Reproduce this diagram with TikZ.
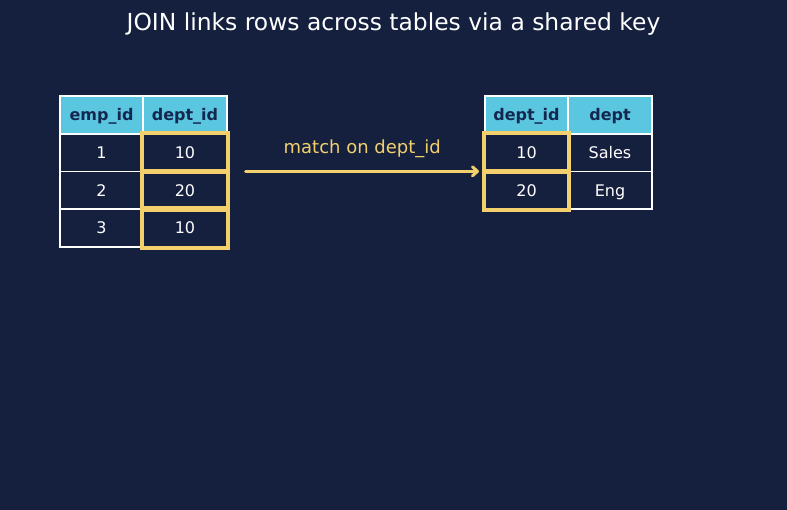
\documentclass[tikz,border=0pt]{standalone}
\usepackage{fontspec}
\setmainfont{DejaVu Sans}
\usetikzlibrary{arrows.meta}
\definecolor{bg}{HTML}{15203F}
\definecolor{hdr}{HTML}{5AC6E0}
\definecolor{hdrtext}{HTML}{14284F}
\definecolor{key}{HTML}{F3D06C}
\tikzset{
  cell/.style={draw=white, line width=1.6pt, fill=bg, text=white, minimum width=83.5pt, minimum height=37.7pt, inner sep=0pt, text height=13pt, text depth=1.3pt, font=\fontsize{16}{19}\selectfont},
  hcell/.style={cell, fill=hdr, text=hdrtext, font=\fontsize{16}{19}\selectfont\bfseries},
  keybox/.style={draw=key, line width=4pt},
  arrowline/.style={draw=key, line width=3pt, line cap=round, -{Straight Barb[length=5pt,width=9pt,line cap=round,line join=round]}},
}
\begin{document}
\begin{tikzpicture}[x=1pt,y=-1pt]
\fill[bg] (0,0) rectangle (787,510);
\useasboundingbox (0,0) rectangle (787,510);
\node[text=white, font=\fontsize{23.4}{28}\selectfont] (title) at (393.5,24) {JOIN links rows across tables via a shared key};
% left table
\node[hcell] (L01) at (101.5,115) {emp\_id};
\node[hcell] (L02) at (185,115) {dept\_id};
\node[cell] (L11) at (101.5,152.7) {1};
\node[cell] (L12) at (185,152.7) {10};
\node[cell] (L21) at (101.5,190.4) {2};
\node[cell] (L22) at (185,190.4) {20};
\node[cell] (L31) at (101.5,228.1) {3};
\node[cell] (L32) at (185,228.1) {10};
% right table
\node[hcell] (R01) at (526.5,115) {dept\_id};
\node[hcell] (R02) at (610,115) {dept};
\node[cell] (R11) at (526.5,152.7) {10};
\node[cell] (R12) at (610,152.7) {Sales};
\node[cell] (R21) at (526.5,190.4) {20};
\node[cell] (R22) at (610,190.4) {Eng};
% key highlights
\foreach \n in {L12,L22,L32,R11,R21}{
  \draw[keybox] (\n.north west) rectangle (\n.south east);
}
% arrow
\draw[arrowline] ([xshift=18pt,yshift=1pt]L12.south east) -- ([xshift=-5pt,yshift=1pt]R11.south west)
  node[midway, above=9pt, text=key, font=\fontsize{18}{21}\selectfont] (lbl) {match on dept\_id};
\end{tikzpicture}
\end{document}
